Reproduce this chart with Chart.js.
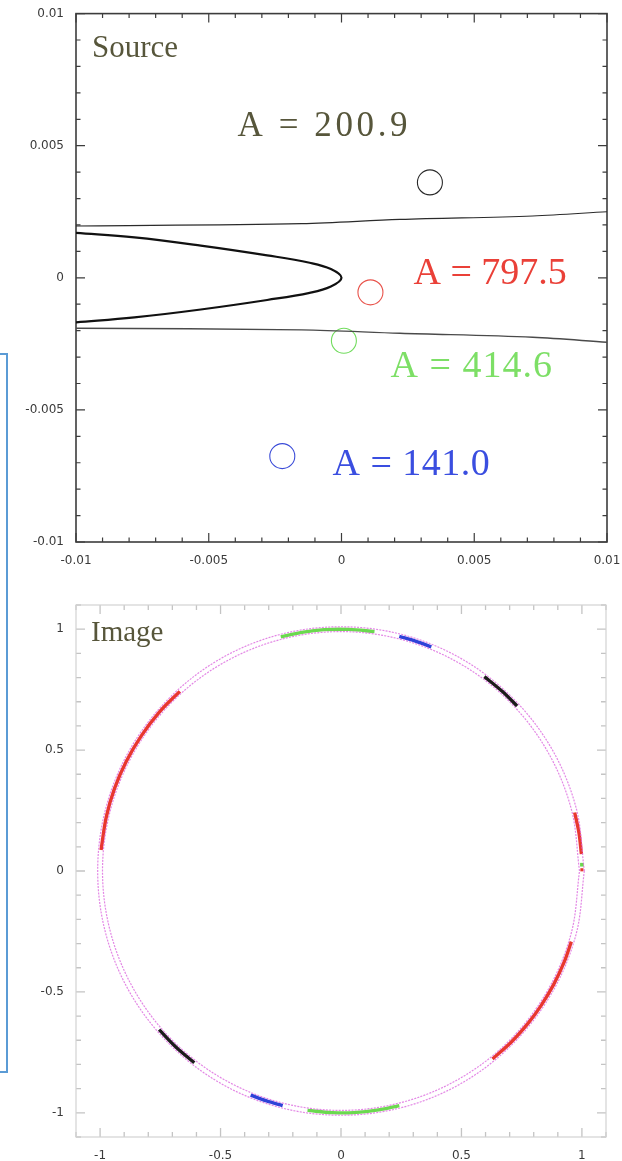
<!DOCTYPE html>
<html>
<head>
<meta charset="utf-8">
<script src="https://cdn.jsdelivr.net/npm/chart.js@4.4.1/dist/chart.umd.min.js"></script>
<style>
  html, body { margin: 0; padding: 0; background: #fff; }
  body { width: 622px; height: 1161px; position: relative; overflow: hidden; }
  .panel { position: absolute; left: 0; width: 622px; }
  #sourceBox { top: 0; height: 580px; }
  #imageBox { top: 580px; height: 581px; }
  #bracket { position: absolute; box-sizing: border-box; left: -20px; top: 353px; width: 28px; height: 720px; border: 2px solid #5b9bd5; }
</style>
</head>
<body>
<div id="bracket"></div>
<div class="panel" id="sourceBox"><canvas id="sourceChart"></canvas></div>
<div class="panel" id="imageBox"><canvas id="imageChart"></canvas></div>
<script>
// ==========================================
// source plane
// ==========================================
const sourceRange = [-0.01, 0.01];
const sourceTickValues = [-0.01, -0.005, 0, 0.005, 0.01];
const sourceTickLabels = ['-0.01', '-0.005', '0', '0.005', '0.01'];

// four sources: black, red, green, blue
const sourceX = [0.00333, 0.00109, 0.00009, -0.00223];
const sourceY = [0.00361, -0.00055, -0.00238, -0.00675];
const sourceGain = ['200.9', '797.5', '414.6', '141.0'];

// caustics
const causticCusp = [
  [-0.01, 0.0017], [-0.0078, 0.00153], [-0.0053, 0.00122], [-0.0028, 0.00085],
  [-0.0012, 0.00057], [-0.0004, 0.00033], [0, 0], [-0.0004, -0.00033],
  [-0.0012, -0.00057], [-0.0028, -0.00084], [-0.0053, -0.0012], [-0.0078, -0.0015],
  [-0.01, -0.00169]
];
const causticUpper = [[-0.01, 0.00196], [-0.0015, 0.00205], [0.0022, 0.00221], [0.0072, 0.00234], [0.01, 0.0025]];
const causticLower = [[-0.01, -0.00191], [-0.0015, -0.00197], [0.0022, -0.0021], [0.0072, -0.00225], [0.01, -0.00244]];

// ==========================================
// image plane
// ==========================================
const imageRange = [-1.1, 1.1];
const imageTickValues = [-1, -0.5, 0, 0.5, 1];
const imageTickLabels = ['-1', '-0.5', '0', '0.5', '1'];

// critical curves
const ringInner = [
  [0.99, 0], [0.956, 0.256], [0.857, 0.495], [0.7, 0.7], [0.495, 0.857], [0.256, 0.956],
  [0, 0.99], [-0.256, 0.956], [-0.495, 0.857], [-0.7, 0.7], [-0.857, 0.495], [-0.956, 0.256],
  [-0.99, 0], [-0.956, -0.256], [-0.857, -0.495], [-0.7, -0.7], [-0.495, -0.857], [-0.256, -0.956],
  [0, -0.99], [0.256, -0.956], [0.495, -0.857], [0.7, -0.7], [0.857, -0.495], [0.956, -0.256], [0.99, 0]
];
const ringOuter = [
  [1.01, 0], [0.976, 0.261], [0.875, 0.505], [0.714, 0.714], [0.505, 0.875], [0.261, 0.976],
  [0, 1.01], [-0.261, 0.976], [-0.505, 0.875], [-0.714, 0.714], [-0.875, 0.505], [-0.976, 0.261],
  [-1.01, 0], [-0.976, -0.261], [-0.875, -0.505], [-0.714, -0.714], [-0.505, -0.875], [-0.261, -0.976],
  [0, -1.01], [0.261, -0.976], [0.505, -0.875], [0.714, -0.714], [0.875, -0.505], [0.976, -0.261], [1.01, 0]
];

// lensed images of each source
const imgBlack = [
  [[0.595, 0.804], [0.669, 0.743], [0.731, 0.682]],
  [[-0.755, -0.656], [-0.682, -0.731], [-0.609, -0.793]]
];
const imgRed = [
  [[-0.669, 0.743], [-0.755, 0.656], [-0.829, 0.559], [-0.891, 0.454], [-0.94, 0.342], [-0.974, 0.225], [-0.996, 0.087]],
  [[0.629, -0.777], [0.707, -0.707], [0.777, -0.629], [0.829, -0.559], [0.883, -0.469], [0.927, -0.375], [0.956, -0.292]],
  [[0.97, 0.242], [0.988, 0.156], [0.998, 0.07]]
];
const imgGreen = [
  [[-0.25, 0.968], [-0.156, 0.988], [-0.07, 0.998], [0.035, 0.999], [0.139, 0.99]],
  [[-0.139, -0.99], [-0.035, -0.999], [0.052, -0.999], [0.156, -0.988], [0.242, -0.97]]
];
const imgBlue = [
  [[0.242, 0.97], [0.309, 0.951], [0.375, 0.927]],
  [[-0.375, -0.927], [-0.309, -0.951], [-0.242, -0.97]]
];
const spotGreen = [[1.0, 0.026]];
const spotRed = [[1.0, 0.005]];

// ==========================================
// styles
// ==========================================
const colBlack = '#1c1c1c', colRed = '#e8372f', colGreen = '#6bd94f', colBlue = '#2f42d8';
const olive = '#57563b';
const sourceRing = ['#2a2a2a', '#e8524a', '#72dc5e', '#3b4cd8'];
const labelColors = [olive, '#ea4038', '#7ddf66', '#3a4ee0'];
const serif = '"Liberation Serif", "DejaVu Serif", serif';

// label anchors (left end, baseline) in data units, font size, letter spacing
const labelAnchors = [[-0.00392, 0.00536], [0.00271, -0.00023], [0.00185, -0.00374], [-0.00034, -0.00747]];
const labelSizes = [35, 38, 38, 38];
const labelSpacing = [3.6, 0, 1, 0.5];

// ==========================================
// plugins
// ==========================================
// closed frame with inward ticks on all four sides
const frameTicks = {
  id: 'frameTicks',
  beforeDatasetsDraw(chart, args, o) {
    const { ctx, chartArea: a, scales: { x, y } } = chart;
    ctx.save();
    ctx.strokeStyle = o.tickColor;
    ctx.lineWidth = o.tickWidth;
    ctx.beginPath();
    x.ticks.forEach((t, i) => {
      const p = x.getPixelForTick(i), len = t.label ? o.major : o.minor;
      ctx.moveTo(p, a.bottom); ctx.lineTo(p, a.bottom - len);
      ctx.moveTo(p, a.top); ctx.lineTo(p, a.top + len);
    });
    y.ticks.forEach((t, i) => {
      const p = y.getPixelForTick(i), len = t.label ? o.major : o.minor;
      ctx.moveTo(a.left, p); ctx.lineTo(a.left + len, p);
      ctx.moveTo(a.right, p); ctx.lineTo(a.right - len, p);
    });
    ctx.stroke();
    ctx.strokeStyle = o.color;
    ctx.lineWidth = o.width;
    ctx.strokeRect(a.left, a.top, a.right - a.left, a.bottom - a.top);
    ctx.restore();
  }
};

// panel title and value labels
const panelText = {
  id: 'panelText',
  afterDatasetsDraw(chart, args, o) {
    const { ctx, chartArea: a, scales: { x, y } } = chart;
    ctx.save();
    ctx.textBaseline = 'alphabetic';
    ctx.textAlign = 'left';
    ctx.fillStyle = olive;
    ctx.font = o.titleSize + 'px ' + serif;
    ctx.fillText(o.title, a.left + o.titleDx, a.top + o.titleDy);
    (o.labels || []).forEach((txt, i) => {
      ctx.font = labelSizes[i] + 'px ' + serif;
      ctx.letterSpacing = labelSpacing[i] + 'px';
      ctx.fillStyle = labelColors[i];
      ctx.fillText(txt, x.getPixelForValue(labelAnchors[i][0]), y.getPixelForValue(labelAnchors[i][1]));
    });
    ctx.letterSpacing = '0px';
    ctx.restore();
  }
};

// ==========================================
// helpers
// ==========================================
// grid marks are hidden; tickLength only sets the label offset
function axis(range, step, values, labels, offset, size) {
  return {
    type: 'linear', min: range[0], max: range[1],
    grid: { display: false, drawTicks: true, tickLength: offset },
    border: { display: false },
    afterFit: size,
    ticks: {
      stepSize: step, autoSkip: false, maxRotation: 0, padding: 0,
      color: '#3a3a3a', font: { family: '"DejaVu Sans", sans-serif', size: 12 },
      callback: v => {
        const k = values.findIndex(m => Math.abs(m - v) < step / 100);
        return k < 0 ? '' : labels[k];
      }
    }
  };
}

function curve(points, color, width, extra) {
  return Object.assign({
    data: points, showLine: true, borderColor: color, borderWidth: width,
    pointRadius: 0, tension: 0.34, fill: false
  }, extra || {});
}

const baseOptions = {
  responsive: true, maintainAspectRatio: false, animation: false, events: [],
  plugins: { legend: { display: false }, tooltip: { enabled: false } }
};

// ==========================================
// source chart
// ==========================================
new Chart(document.getElementById('sourceChart'), {
  type: 'scatter',
  data: {
    datasets: [
      curve(causticUpper, '#2b2b2b', 1.1),
      curve(causticLower, '#4a4a4a', 1.4),
      curve(causticCusp, '#111', 2.2, { tension: 0.4 }),
      {
        data: sourceX.map((v, i) => ({ x: v, y: sourceY[i] })),
        showLine: false, pointRadius: 12.5, pointBorderWidth: 1.1,
        pointBorderColor: sourceRing, pointBackgroundColor: 'rgba(0,0,0,0)'
      }
    ]
  },
  options: Object.assign({}, baseOptions, {
    layout: { padding: { left: 0, top: 12, right: 15, bottom: 8 } },
    scales: {
      x: axis(sourceRange, 0.001, sourceTickValues, sourceTickLabels, 12, s => { s.height = 30; }),
      y: axis(sourceRange, 0.001, sourceTickValues, sourceTickLabels, 12, s => { s.width = 76; })
    },
    plugins: Object.assign({}, baseOptions.plugins, {
      frameTicks: { color: '#3c3c3c', width: 1.6, tickColor: '#3c3c3c', tickWidth: 1.2, major: 9, minor: 4.5 },
      panelText: { title: 'Source', titleSize: 31, titleDx: 16, titleDy: 43, labels: sourceGain.map(g => 'A = ' + g) }
    })
  }),
  plugins: [frameTicks, panelText]
});

// ==========================================
// image chart
// ==========================================
const ringStyle = { borderDash: [2, 1.2] };
const imageSets = [
  curve(ringInner, 'rgba(220,105,222,0.8)', 1.2, ringStyle),
  curve(ringOuter, 'rgba(220,105,222,0.8)', 1.2, ringStyle)
];
[[imgRed, colRed], [imgGreen, colGreen], [imgBlue, colBlue], [imgBlack, colBlack]].forEach(([arcs, c]) => {
  arcs.forEach(p => imageSets.push(curve(p, c, 3.4, { borderCapStyle: 'butt' })));
});
imageSets.push({ data: spotGreen, pointStyle: 'rect', pointRadius: 2.6, pointBackgroundColor: colGreen, pointBorderWidth: 0 });
imageSets.push({ data: spotRed, pointStyle: 'rect', pointRadius: 2.2, pointBackgroundColor: colRed, pointBorderWidth: 0 });

new Chart(document.getElementById('imageChart'), {
  type: 'scatter',
  data: { datasets: imageSets },
  options: Object.assign({}, baseOptions, {
    layout: { padding: { left: 0, top: 25, right: 16, bottom: 0 } },
    scales: {
      x: axis(imageRange, 0.1, imageTickValues, imageTickLabels, 12, s => { s.height = 24; }),
      y: axis(imageRange, 0.1, imageTickValues, imageTickLabels, 12, s => { s.width = 76; })
    },
    plugins: Object.assign({}, baseOptions.plugins, {
      frameTicks: { color: '#d2d2d2', width: 1.2, tickColor: '#c4c4c4', tickWidth: 1.3, major: 9, minor: 5 },
      panelText: { title: 'Image', titleSize: 29, titleDx: 15, titleDy: 36 }
    })
  }),
  plugins: [frameTicks, panelText]
});
</script>
</body>
</html>
